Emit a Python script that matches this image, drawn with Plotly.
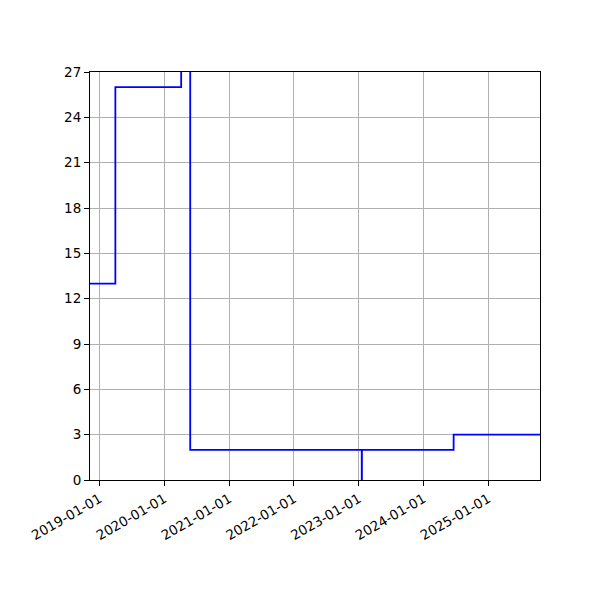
import plotly.graph_objects as go

dates = ["2018-11-08", "2019-03-31", "2020-04-05", "2020-05-26",
         "2023-01-18", "2023-01-19", "2024-06-19", "2025-10-19"]
values = [13, 26, 40, 2, 0, 2, 3, 3]

x_ticks = ["2019-01-01", "2020-01-01", "2021-01-01", "2022-01-01",
           "2023-01-01", "2024-01-01", "2025-01-01"]
y_ticks = [0, 3, 6, 9, 12, 15, 18, 21, 24, 27]

fig = go.Figure()
fig.add_trace(go.Scatter(x=dates, y=values, mode="lines",
                         line=dict(color="#0000ff", width=1.8, shape="hv"),
                         showlegend=False))

axis_common = dict(showline=True, linecolor="black", linewidth=1, mirror=True,
                   ticks="outside", ticklen=5, tickcolor="black",
                   showgrid=True, gridcolor="#b0b0b0", gridwidth=1,
                   zeroline=False, tickfont=dict(family="DejaVu Sans", size=13.5, color="black"))

fig.update_layout(
    width=600, height=600,
    margin=dict(l=82, r=68, t=64, b=128),
    paper_bgcolor="white", plot_bgcolor="white",
    xaxis=dict(range=[dates[0], dates[-1]], tickvals=x_ticks, ticktext=x_ticks,
               tickangle=-30, **axis_common),
    yaxis=dict(range=[0, 27], tickvals=y_ticks, **axis_common),
)

fig.write_html("out.html")
